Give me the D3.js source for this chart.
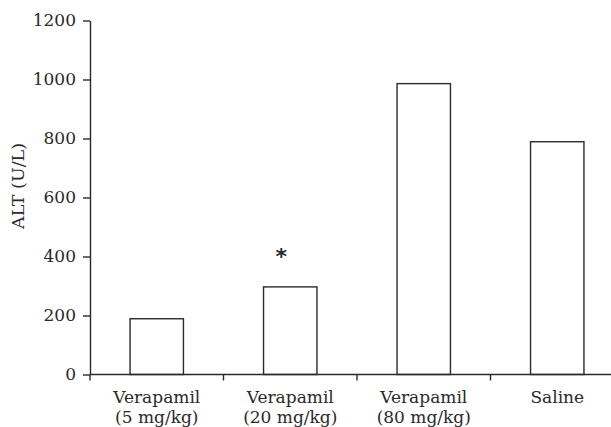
<!DOCTYPE html>
<html><head><meta charset="utf-8">
<script src="https://cdn.jsdelivr.net/npm/d3@7/dist/d3.min.js"></script>
<style>body{margin:0;background:#fff}svg{display:block}</style>
</head><body>
<svg id="c" width="611" height="427"></svg>
<script>
const categories = ["Verapamil (5 mg/kg)", "Verapamil (20 mg/kg)", "Verapamil (80 mg/kg)", "Saline"];
const labelLines = [["Verapamil","(5 mg/kg)"],["Verapamil","(20 mg/kg)"],["Verapamil","(80 mg/kg)"],["Saline"]];
const values = [189, 297, 986, 789];
const marks = ["", "*", "", ""];
const yTicks = [0, 200, 400, 600, 800, 1000, 1200];

const svg = d3.select("#c");
const ink = "#2a2a2a";
const serif = "DejaVu Serif, serif";
const x0 = 90, x1 = 624, yBottom = 374.5, yTop = 20.5;

const x = d3.scaleBand().domain(categories).range([x0, x1]).paddingInner(0.6).paddingOuter(0.3);
const y = d3.scaleLinear().domain([0, 1200]).range([yBottom, yTop]);
const step = x.step();

// bars
svg.append("g").selectAll("rect").data(values).join("rect")
  .attr("x", (d, i) => x(categories[i]))
  .attr("y", d => y(d))
  .attr("width", x.bandwidth())
  .attr("height", d => y(0) - y(d))
  .attr("fill", "#fff").attr("stroke", ink).attr("stroke-width", 1.4);

// y axis
const ya = svg.append("g").attr("transform", `translate(${x0},0)`)
  .call(d3.axisLeft(y).tickValues(yTicks).tickFormat(d3.format("d")).tickSize(7).tickPadding(7).tickSizeOuter(0));
ya.attr("font-family", serif).attr("font-size", 17);
ya.select(".domain").attr("stroke", ink).attr("stroke-width", 1.4);
ya.selectAll(".tick line").attr("stroke", ink).attr("stroke-width", 1.4);
ya.selectAll(".tick text").attr("fill", ink);

// x axis line and boundary ticks
const bounds = d3.range(categories.length + 1).map(i => x0 + i * step);
svg.append("line").attr("x1", x0).attr("x2", 611).attr("y1", yBottom).attr("y2", yBottom)
  .attr("stroke", ink).attr("stroke-width", 1.4);
svg.append("g").selectAll("line").data(bounds).join("line")
  .attr("x1", d => d).attr("x2", d => d).attr("y1", yBottom).attr("y2", yBottom + 6)
  .attr("stroke", ink).attr("stroke-width", 1.4);

// x labels
const xl = svg.append("g").attr("font-family", serif).attr("font-size", 17)
  .selectAll("text").data(categories).join("text")
  .attr("fill", ink)
  .attr("text-anchor", "middle")
  .attr("transform", d => `translate(${x(d) + x.bandwidth() / 2},403)`);
xl.each(function(d, i) {
  const t = d3.select(this);
  labelLines[i].forEach((s, j) => t.append("tspan").attr("x", 0).attr("y", j * 20).text(s));
});

// significance marks
svg.append("g").selectAll("text").data(marks).join("text")
  .attr("x", (d, i) => x(categories[i]) + x.bandwidth() / 2 - 9)
  .attr("y", (d, i) => y(values[i]) - 23)
  .attr("text-anchor", "middle").attr("font-family", "DejaVu Sans, sans-serif")
  .attr("font-weight", "bold").attr("font-size", 22).attr("fill", ink)
  .text(d => d);

// y title
svg.append("text").attr("transform", "translate(24,186) rotate(-90)")
  .attr("text-anchor", "middle").attr("font-family", serif).attr("font-size", 17.5)
  .attr("fill", ink).text("ALT (U/L)");
</script>
</body></html>
